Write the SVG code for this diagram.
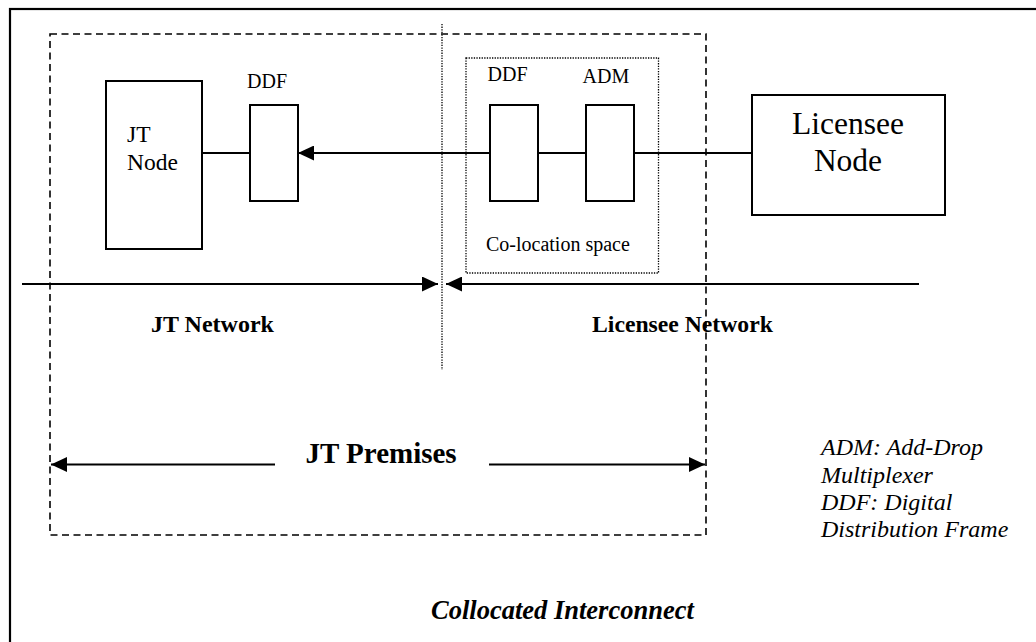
<svg xmlns="http://www.w3.org/2000/svg" width="1036" height="642" viewBox="0 0 1036 642">
<style>
.box{fill:#fff;stroke:#000;stroke-width:2}
.ln{stroke:#000;stroke-width:2;fill:none}
.dash{stroke:#000;stroke-width:1.6;fill:none;stroke-dasharray:7 4.5}
.dot{stroke:#000;stroke-width:1.3;fill:none;stroke-dasharray:1.3 1.3}
text{font-family:"Liberation Serif","Times New Roman",serif;fill:#000}
.lbl{font-size:20px}
.bold{font-weight:bold}
.it{font-style:italic;font-size:24px}
</style>
<defs>
<marker id="ah" viewBox="0 0 16 15" refX="16" refY="7.5" markerWidth="16" markerHeight="15" markerUnits="userSpaceOnUse" orient="auto">
<path d="M0,0 L16,7.5 L0,15 Z" fill="#000"/>
</marker>
</defs>
<rect x="10" y="9" width="1040" height="650" fill="#fff" stroke="#000" stroke-width="2.2"/>
<g id="premises">
<rect class="dash" x="50" y="34" width="656" height="501"/>
</g>
<g id="boundary">
<line class="dot" x1="442" y1="24" x2="442" y2="370"/>
</g>
<g id="colocation">
<rect class="dot" x="466" y="58" width="192.5" height="215"/>
<text class="lbl" x="486" y="251" font-size="21">Co-location space</text>
</g>
<g id="connectors">
<line class="ln" x1="202" y1="153" x2="250" y2="153"/>
<line class="ln" x1="490" y1="153" x2="298" y2="153" marker-end="url(#ah)"/>
<line class="ln" x1="538" y1="153" x2="586" y2="153"/>
<line class="ln" x1="634" y1="153" x2="752" y2="153"/>
<line class="ln" x1="22" y1="284" x2="438" y2="284" marker-end="url(#ah)"/>
<line class="ln" x1="919" y1="284" x2="446" y2="284" marker-end="url(#ah)"/>
<line class="ln" x1="275" y1="464.5" x2="51" y2="464.5" marker-end="url(#ah)"/>
<line class="ln" x1="489" y1="464.5" x2="705" y2="464.5" marker-end="url(#ah)"/>
</g>
<g id="jt-node">
<rect class="box" x="106" y="81" width="96" height="168"/>
<text x="127" y="142" font-size="23.5">JT</text>
<text x="127" y="170" font-size="23.5">Node</text>
</g>
<g id="ddf-jt">
<rect class="box" x="250" y="105" width="48" height="96"/>
<text class="lbl" x="247" y="88">DDF</text>
</g>
<g id="ddf-colo">
<rect class="box" x="490" y="105" width="48" height="96"/>
<text class="lbl" x="487.5" y="81">DDF</text>
</g>
<g id="adm">
<rect class="box" x="586" y="105" width="48" height="96"/>
<text class="lbl" x="582.5" y="83" font-size="20.5">ADM</text>
</g>
<g id="licensee-node">
<rect class="box" x="752" y="95" width="193" height="120"/>
<text x="848" y="134" font-size="31.5" text-anchor="middle">Licensee</text>
<text x="848" y="171" font-size="31.5" text-anchor="middle">Node</text>
</g>
<g id="labels">
<text class="bold" x="151" y="332" font-size="24">JT Network</text>
<text class="bold" x="592" y="332" font-size="23.7">Licensee Network</text>
<text class="bold" x="305.5" y="463" font-size="29">JT Premises</text>
<text class="it" x="821" y="455">ADM: Add-Drop</text>
<text class="it" x="821" y="483">Multiplexer</text>
<text class="it" x="821" y="510">DDF: Digital</text>
<text class="it" x="821" y="537">Distribution Frame</text>
<text class="bold" x="431" y="619" font-size="26.5" font-style="italic">Collocated Interconnect</text>
</g>
</svg>
